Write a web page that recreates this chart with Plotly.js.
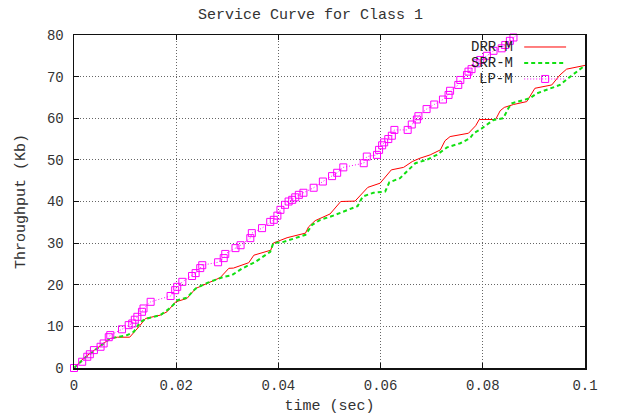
<!DOCTYPE html>
<html>
<head>
<meta charset="utf-8">
<script src="https://cdn.plot.ly/plotly-3.0.1.min.js"></script>
<style>html,body{margin:0;padding:0;background:#fff;}#chart{width:621px;height:416px;}</style>
</head>
<body>
<div id="chart"></div>
<script>
const xTickVals = [0, 0.02, 0.04, 0.06, 0.08, 0.1];
const xTickText = ['0', '0.02', '0.04', '0.06', '0.08', '0.1'];
const yTickVals = [0, 10, 20, 30, 40, 50, 60, 70, 80];

const drrX = [0, 0.002, 0.004, 0.0055, 0.0071, 0.0085, 0.0109, 0.0127, 0.014, 0.0169, 0.0182, 0.0199, 0.0221, 0.0238, 0.026, 0.0286, 0.0303, 0.0312, 0.0342, 0.0352, 0.0385, 0.039, 0.0417, 0.0453, 0.0459, 0.0472, 0.0501, 0.0511, 0.0522, 0.055, 0.0563, 0.0575, 0.0599, 0.0621, 0.0645, 0.0662, 0.0677, 0.0697, 0.0717, 0.0726, 0.0736, 0.0772, 0.0786, 0.0793, 0.0825, 0.0834, 0.0842, 0.086, 0.0886, 0.0896, 0.0902, 0.0935, 0.0951, 0.0964, 0.1];
const drrY = [0, 2.5, 4.3, 5.6, 7.1, 7.4, 7.4, 9.9, 11.9, 12.7, 13.5, 15.9, 16.7, 19.1, 20.3, 21.7, 23.95, 24.0, 25.3, 27.1, 28.3, 30, 31.3, 32.4, 33.9, 35.4, 37, 38.4, 40, 40.1, 41.8, 43.4, 44.4, 47.6, 48.2, 49.6, 50.4, 51.2, 52.4, 54.6, 55.6, 56.4, 58.2, 59.7, 59.7, 61.8, 62.6, 63.3, 64, 66, 67.2, 68, 70.4, 71.8, 72.7];

const srrX = [0, 0.002, 0.004, 0.0055, 0.0071, 0.0104, 0.0117, 0.013, 0.0143, 0.0169, 0.0189, 0.0203, 0.0221, 0.0238, 0.0262, 0.0293, 0.0309, 0.0329, 0.0355, 0.0384, 0.039, 0.041, 0.0453, 0.0466, 0.0482, 0.0505, 0.0534, 0.0555, 0.0565, 0.0586, 0.0609, 0.0617, 0.0638, 0.0645, 0.0668, 0.069, 0.071, 0.073, 0.0756, 0.0775, 0.0782, 0.0795, 0.0808, 0.0821, 0.084, 0.085, 0.0857, 0.0892, 0.0906, 0.0932, 0.0951, 0.0967, 0.098, 0.1];
const srrY = [0, 2.3, 4.2, 5.5, 7.1, 7.9, 8.7, 11.1, 11.9, 12.7, 14.5, 16.3, 16.9, 19.1, 20.5, 21.9, 22.3, 23.9, 25.5, 27.9, 30, 30.3, 32, 34.4, 35.6, 36.5, 38, 38.9, 41.2, 42.1, 42.4, 44.6, 45.6, 46.4, 49.2, 50, 51.2, 53, 54, 55.2, 56.4, 57.3, 58.4, 59.6, 60, 62.4, 63.6, 64.8, 66, 67.2, 68, 69.6, 70.8, 72.7];

const lpX = [0, 0.0016, 0.0026, 0.0031, 0.0039, 0.0052, 0.0058, 0.0068, 0.0071, 0.0094, 0.0107, 0.0114, 0.0119, 0.0124, 0.0133, 0.0136, 0.015, 0.0189, 0.0198, 0.0202, 0.0212, 0.0231, 0.0238, 0.0247, 0.0251, 0.0282, 0.0293, 0.0296, 0.0316, 0.0326, 0.0345, 0.0348, 0.0368, 0.0384, 0.0391, 0.0398, 0.0404, 0.0413, 0.042, 0.0427, 0.0433, 0.044, 0.0449, 0.0469, 0.0487, 0.0505, 0.0515, 0.0527, 0.0567, 0.0573, 0.0593, 0.0597, 0.0603, 0.0607, 0.0615, 0.0622, 0.0627, 0.0653, 0.0661, 0.0671, 0.0674, 0.069, 0.0705, 0.0722, 0.0733, 0.0736, 0.0752, 0.0756, 0.0769, 0.0772, 0.0778, 0.0788, 0.0795, 0.0808, 0.0821, 0.0837, 0.0844, 0.0853, 0.086, 0.0868];
const lpY = [0, 1.5, 2.7, 3.3, 4.3, 5.1, 5.9, 7.4, 7.9, 9.3, 10.3, 10.7, 11.6, 12.3, 13.5, 14.3, 15.9, 17.3, 18.7, 19.5, 20.7, 22.1, 22.8, 24, 24.7, 25.4, 26.4, 27.4, 28.8, 29.5, 31.2, 32.4, 33.6, 35.1, 35.6, 36.6, 38, 39.2, 40, 40.4, 41, 41.6, 42.1, 43.3, 44.8, 46.1, 46.9, 48.2, 49.2, 50.8, 51.2, 52.4, 53.5, 54.2, 55, 55.8, 57.2, 57.2, 58.5, 59.7, 60.5, 62.2, 63.3, 64.5, 65.6, 66.6, 68, 69.2, 70.4, 71.2, 71.8, 73.2, 74, 75, 76.2, 76.8, 77.6, 78.6, 79.4, 80.2];

const seriesNames = ['DRR-M', 'SRR-M', 'LP-M'];
const colors = ['#ff0000', '#11e011', '#ff00ff'];

const FONT = 'Liberation Mono, DejaVu Sans Mono, monospace';

const traces = [
  {x: drrX, y: drrY, name: seriesNames[0], mode: 'lines', line: {color: colors[0], width: 1}},
  {x: srrX, y: srrY, name: seriesNames[1], mode: 'lines', line: {color: colors[1], width: 2, dash: '4px,3px'}},
  {x: lpX, y: lpY, name: seriesNames[2], mode: 'lines+markers', cliponaxis: false,
   line: {color: colors[2], width: 1, dash: '1px,2px'},
   marker: {symbol: 'square-open', size: 7, color: colors[2], line: {width: 1, color: colors[2]}}}
];

// gnuplot-style legend (text left, sample right), inside top-right
const legRows = [0.964, 0.916, 0.868];
const shapes = [];
const annotations = [];
seriesNames.forEach((n, i) => {
  annotations.push({xref: 'paper', yref: 'paper', x: 0.862, y: legRows[i], xanchor: 'right', yanchor: 'middle',
    text: n, showarrow: false, borderpad: 0, font: {family: FONT, size: 14, color: '#222'}});
  shapes.push({type: 'line', xref: 'paper', yref: 'paper', x0: 0.881, x1: 0.963, y0: legRows[i], y1: legRows[i],
    line: {color: colors[i], width: i === 1 ? 2 : 1, dash: i === 1 ? '4px,3px' : (i === 2 ? '1px,2px' : 'solid')}});
});
shapes.push({type: 'rect', xref: 'paper', yref: 'paper', xsizemode: 'pixel', ysizemode: 'pixel',
  xanchor: 0.922, yanchor: legRows[2], x0: -3.5, x1: 3.5, y0: -3.5, y1: 3.5,
  line: {color: colors[2], width: 1}, fillcolor: 'rgba(0,0,0,0)'});

const axisCommon = {
  showline: true, mirror: 'ticks', linecolor: '#111', linewidth: 1.5,
  ticks: 'inside', ticklen: 5, tickcolor: '#111', tickwidth: 1,
  showgrid: true, gridcolor: '#666', griddash: '1px,2px', gridwidth: 1,
  zeroline: false, tickfont: {family: FONT, size: 14, color: '#333'}
};

const layout = {
  width: 621, height: 416,
  margin: {l: 74, r: 36, t: 35, b: 48},
  paper_bgcolor: '#fff', plot_bgcolor: '#fff',
  showlegend: false,
  title: {text: 'Service Curve for Class 1', x: 0.5, xanchor: 'center', y: 0.966, yanchor: 'middle',
    font: {family: FONT, size: 15, color: '#333'}},
  xaxis: Object.assign({}, axisCommon, {
    range: [0, 0.1], tickmode: 'array', tickvals: xTickVals, ticktext: xTickText,
    ticklabelstandoff: 4,
    title: {text: 'time (sec)', standoff: 6, font: {family: FONT, size: 15, color: '#333'}}
  }),
  yaxis: Object.assign({}, axisCommon, {
    range: [0, 80], tickmode: 'array', tickvals: yTickVals,
    ticklabelstandoff: 6,
    title: {text: 'Throughput (Kb)', standoff: 17, font: {family: FONT, size: 15, color: '#333'}}
  }),
  shapes: shapes,
  annotations: annotations
};

Plotly.newPlot('chart', traces, layout, {displayModeBar: false, staticPlot: true});
</script>
</body>
</html>
